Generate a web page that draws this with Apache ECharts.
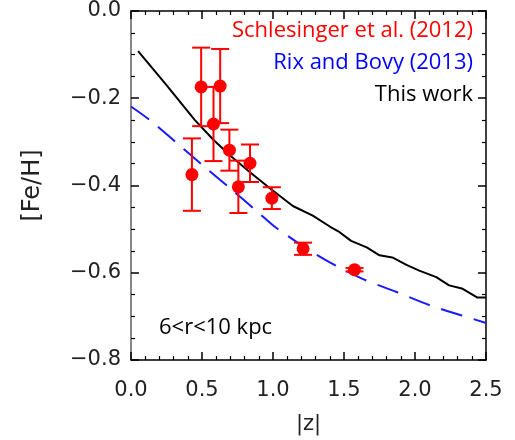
<!DOCTYPE html>
<html><head><meta charset="utf-8">
<script src="https://cdn.jsdelivr.net/npm/echarts@6/dist/echarts.min.js"></script>
<style>html,body{margin:0;padding:0;background:#fff}#c{width:515px;height:440px}</style>
</head><body><div id="c"></div>
<script>
// Schlesinger et al. (2012) points
const schZ   = [0.429, 0.494, 0.581, 0.628, 0.693, 0.756, 0.838, 0.992, 1.212, 1.574];
const schFe  = [-0.375, -0.174, -0.259, -0.172, -0.319, -0.403, -0.349, -0.429, -0.545, -0.593];
const schErr = [0.083, 0.090, 0.085, 0.085, 0.047, 0.060, 0.043, 0.025, 0.014, 0.004];
// Rix and Bovy (2013) curve
const rixZ  = [0, 0.14, 0.32, 0.51, 0.70, 0.89, 1.01, 1.08, 1.21, 1.40, 1.63, 1.87, 2.10, 2.33, 2.5];
const rixFe = [-0.219, -0.252, -0.302, -0.355, -0.407, -0.460, -0.494, -0.510, -0.539, -0.576, -0.614, -0.644, -0.674, -0.698, -0.715];
// This work
const twZ  = [0.05, 0.25, 0.45, 0.58, 0.70, 0.84, 0.98, 1.14, 1.28, 1.40, 1.46, 1.55, 1.66, 1.75, 1.84, 1.94, 2.03, 2.15, 2.24, 2.33, 2.44, 2.5];
const twFe = [-0.092, -0.170, -0.250, -0.295, -0.332, -0.370, -0.407, -0.447, -0.469, -0.494, -0.505, -0.527, -0.542, -0.560, -0.565, -0.582, -0.595, -0.610, -0.629, -0.636, -0.657, -0.657];
// axis ticks
const xTicks = {min: 0, max: 2.5, step: 0.5};
const yTicks = {min: -0.8, max: 0, step: 0.2};

const chart = echarts.init(document.getElementById('c'), null, {renderer: 'canvas'});
const labFont = {fontFamily: 'DejaVu Sans', fontSize: 21, color: '#222'};
const lgFont = 'Open Sans';
const baseAxis = {
  axisTick: {inside: true, length: 8, lineStyle: {color: '#000', width: 1.5}},
  minorTick: {show: true, length: 4, lineStyle: {color: '#000', width: 1.2}},
  splitLine: {show: false},
  axisLine: {onZero: false, lineStyle: {color: '#000', width: 1.5}}
};
chart.setOption({
  animation: false,
  grid: {left: 131, right: 29, top: 11, bottom: 74, containLabel: false},
  xAxis: [
    Object.assign({}, baseAxis, {type: 'value', min: xTicks.min, max: xTicks.max, interval: xTicks.step,
      minorTick: Object.assign({}, baseAxis.minorTick, {splitNumber: 5}),
      axisLabel: Object.assign({}, labFont, {margin: 20, formatter: v => v.toFixed(1)}),
      name: '|z|', nameLocation: 'middle', nameGap: 54,
      nameTextStyle: {fontFamily: 'DejaVu Sans', fontSize: 21, color: '#222'}}),
    Object.assign({}, baseAxis, {type: 'value', position: 'top', min: xTicks.min, max: xTicks.max, interval: xTicks.step,
      minorTick: Object.assign({}, baseAxis.minorTick, {splitNumber: 5}),
      axisLabel: {show: false}})
  ],
  yAxis: [
    Object.assign({}, baseAxis, {type: 'value', min: yTicks.min, max: yTicks.max, interval: yTicks.step,
      axisLine: {onZero: false, lineStyle: {color: '#888', width: 2}},
      minorTick: Object.assign({}, baseAxis.minorTick, {splitNumber: 4}),
      axisLabel: Object.assign({}, labFont, {margin: 10, formatter: v => (v < 0 ? '\u2212' : '') + Math.abs(v).toFixed(1)}),
      name: '[Fe/H]', nameLocation: 'middle', nameGap: 86,
      nameTextStyle: {fontFamily: 'DejaVu Sans', fontSize: 24, color: '#222'}}),
    Object.assign({}, baseAxis, {type: 'value', position: 'right', min: yTicks.min, max: yTicks.max, interval: yTicks.step,
      minorTick: Object.assign({}, baseAxis.minorTick, {splitNumber: 4}),
      axisLabel: {show: false}})
  ],
  series: [
    {type: 'line', data: rixZ.map((z, i) => [z, rixFe[i]]), showSymbol: false, smooth: 0.3,
      lineStyle: {color: '#1a1aff', width: 2, type: [22, 12]}, z: 2},
    {type: 'line', data: twZ.map((z, i) => [z, twFe[i]]), showSymbol: false,
      lineStyle: {color: '#000', width: 2}, z: 3},
    {type: 'custom', data: schZ.map((z, i) => [z, schFe[i] - schErr[i], schFe[i] + schErr[i]]), z: 4,
      renderItem: function (params, api) {
        const lo = api.coord([api.value(0), api.value(1)]);
        const hi = api.coord([api.value(0), api.value(2)]);
        const hw = 9;
        const st = {stroke: '#ff0000', lineWidth: 2, fill: null};
        return {type: 'group', children: [
          {type: 'line', shape: {x1: lo[0], y1: lo[1], x2: hi[0], y2: hi[1]}, style: st},
          {type: 'line', shape: {x1: lo[0] - hw, y1: lo[1], x2: lo[0] + hw, y2: lo[1]}, style: st},
          {type: 'line', shape: {x1: hi[0] - hw, y1: hi[1], x2: hi[0] + hw, y2: hi[1]}, style: st}
        ]};
      }},
    {type: 'scatter', data: schZ.map((z, i) => [z, schFe[i]]), symbol: 'circle', symbolSize: 13,
      itemStyle: {color: '#ff0000', opacity: 1}, z: 5}
  ],
  graphic: [
    {type: 'text', right: 42, top: 20, style: {text: 'Schlesinger et al. (2012)', fill: '#ff0000', font: '22px "' + lgFont + '"'}},
    {type: 'text', right: 42, top: 52, style: {text: 'Rix and Bovy (2013)', fill: '#0000ff', font: '22px "' + lgFont + '"'}},
    {type: 'text', right: 42, top: 84, style: {text: 'This work', fill: '#000', font: '22px "' + lgFont + '"'}},
    {type: 'text', left: 159, top: 317, style: {text: '6<r<10 kpc', fill: '#000', font: '22px "' + lgFont + '"'}}
  ]
});
</script></body></html>
